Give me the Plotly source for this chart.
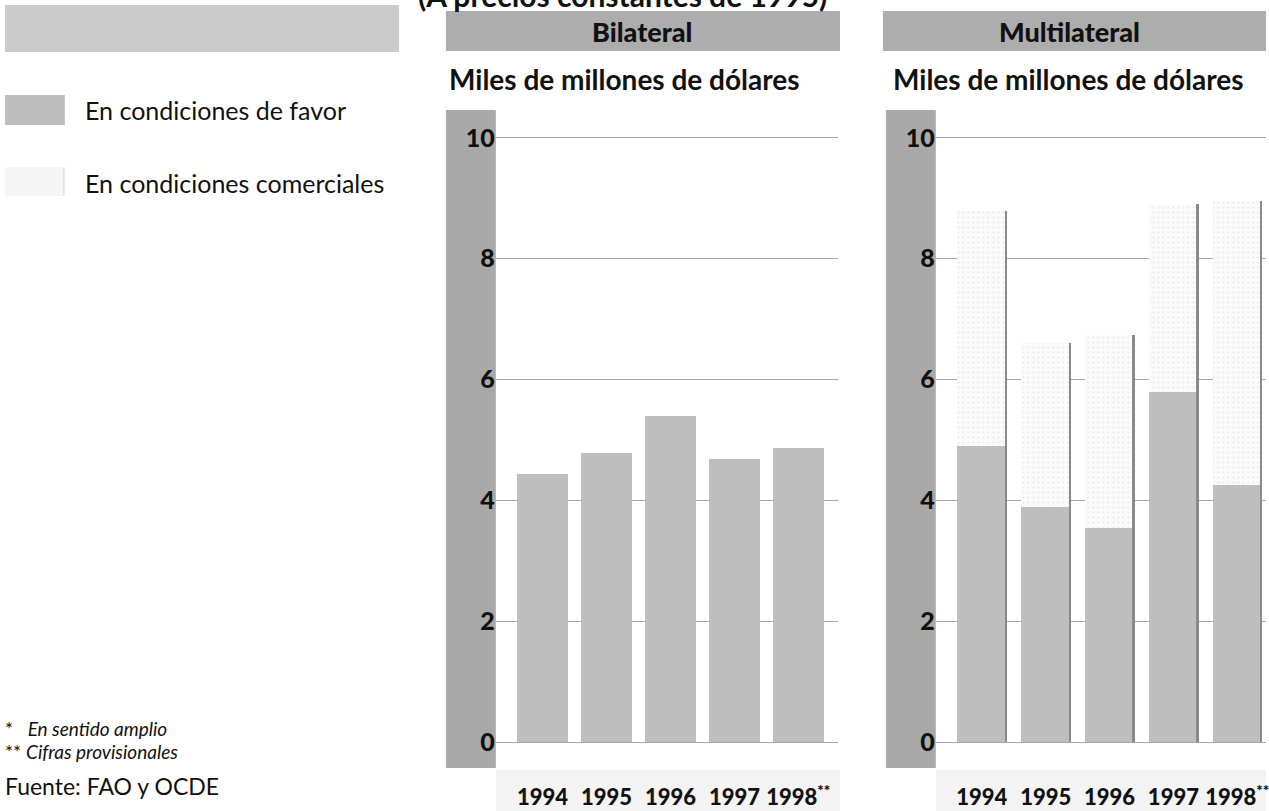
import plotly.graph_objects as go

# --- data (miles de millones de dólares, precios constantes de 1995) ---
years = ["1994", "1995", "1996", "1997", "1998<sup>**</sup>"]
bilateral_favor = [4.43, 4.79, 5.40, 4.68, 4.86]
multilateral_favor = [4.90, 3.89, 3.55, 5.80, 4.25]
multilateral_comercial = [3.89, 2.71, 3.18, 3.10, 4.70]

W, H = 1269, 811
FONT = "Lato"


def fx(px):
    return px / W


def fy(py):
    return 1 - py / H


FAVOR = "#bebebe"
COMERCIAL = "#f4f4f4"
BAND = "#a9a9a9"
EDGE = "#8a8a8a"

pos = list(range(len(years)))
multilateral_total = [f + c for f, c in zip(multilateral_favor, multilateral_comercial)]

fig = go.Figure()

# Bilateral panel
fig.add_trace(go.Bar(x=pos, y=bilateral_favor, width=0.8, marker=dict(color=FAVOR, line_width=0),
                     name="En condiciones de favor", xaxis="x", yaxis="y", showlegend=False))

# Multilateral panel: concessional part, commercial part on top, thin edge marking the total
fig.add_trace(go.Bar(x=pos, y=multilateral_favor, width=0.78, marker=dict(color=FAVOR, line_width=0),
                     name="En condiciones de favor", xaxis="x2", yaxis="y2", showlegend=False))
fig.add_trace(go.Bar(x=pos, y=multilateral_comercial, base=multilateral_favor, width=0.78,
                     marker=dict(color=COMERCIAL, line_width=0,
                                 pattern=dict(shape=".", fgcolor="#cfcfcf", bgcolor="#fbfbfb",
                                              size=5, solidity=0.12)),
                     name="En condiciones comerciales", xaxis="x2", yaxis="y2", showlegend=False))
fig.add_trace(go.Bar(x=pos, y=multilateral_total, width=0.035, offset=0.355,
                     marker=dict(color=EDGE, line_width=0),
                     xaxis="x2", yaxis="y2", showlegend=False, hoverinfo="skip"))

ydom = [fy(768), fy(110)]
yrange = [-0.43, 10.46]
yticks = [0, 2, 4, 6, 8, 10]
tickfont_y = dict(family=FONT, size=25, color="#111", weight=900)
tickfont_x = dict(family=FONT, size=22, color="#111", weight=900)

common_y = dict(range=yrange, tickvals=yticks, ticktext=[str(v) for v in yticks],
                showgrid=True, gridcolor="#a8a8a8", gridwidth=1, zeroline=False,
                showline=False, ticks="", tickfont=tickfont_y, fixedrange=True)
common_x = dict(tickvals=pos, ticktext=years, showgrid=False, zeroline=False, showline=False,
                ticks="", tickfont=tickfont_x, ticklabelstandoff=14, fixedrange=True,
                ticklabeloverflow="allow")

fig.update_layout(
    width=W, height=H,
    margin=dict(l=0, r=0, t=0, b=0),
    paper_bgcolor="white", plot_bgcolor="white",
    barmode="overlay", bargap=0,
    xaxis=dict(domain=[fx(497), fx(840)], range=[-0.73, 4.62], anchor="y", **common_x),
    yaxis=dict(domain=ydom, anchor="x", **common_y),
    xaxis2=dict(domain=[fx(938), 1.0], range=[-0.72, 4.45], anchor="y2", **common_x),
    yaxis2=dict(domain=ydom, anchor="x2", **common_y),
)

shapes = []


def rect(x0, y0, x1, y1, color, line=None):
    shapes.append(dict(type="rect", xref="paper", yref="paper", layer="below",
                       x0=fx(x0), x1=fx(x1), y0=fy(y1), y1=fy(y0),
                       fillcolor=color, line=line or dict(width=0)))


# grey bands behind the value axes
rect(447, 110, 497, 768, BAND)
rect(888, 110, 938, 768, BAND)
# light band behind the year labels
rect(497, 770, 842, 811, "#f3f3f3")
rect(938, 770, 1269, 811, "#f3f3f3")
# header bands
rect(5, 5, 400, 52, "#cbcbcb")
rect(447, 11, 842, 51, "#adadad")
rect(885, 11, 1269, 51, "#adadad")
# legend swatches
rect(5, 95, 65, 125, FAVOR)
rect(5, 167, 65, 196, "#f5f5f5")
shapes.append(dict(type="line", xref="paper", yref="paper", x0=fx(64), x1=fx(64),
                   y0=fy(196), y1=fy(167), line=dict(color="#d8d8d8", width=1)))
fig.update_layout(shapes=shapes)

ann = []


def text(t, x, y, size, xanchor="left", weight="normal", color="#111"):
    ann.append(dict(text=t, x=fx(x), y=fy(y), xref="paper", yref="paper",
                    xanchor=xanchor, yanchor="middle", showarrow=False,
                    font=dict(family=FONT, size=size, color=color, weight=weight)))


text("(A precios constantes de 1995)", 624, -5, 30, xanchor="center", weight="bold")
text("Bilateral", 644, 31, 27, xanchor="center", weight=900)
text("Multilateral", 1072, 31, 27, xanchor="center", weight=900)
text("Miles de millones de dólares", 448, 79, 28, weight="bold")
text("Miles de millones de dólares", 893, 79, 28, weight="bold")
text("En condiciones de favor", 83, 110, 25)
text("En condiciones comerciales", 83, 183, 25)
text("*   <i>En sentido amplio</i>", 3, 728, 19)
text("** <i>Cifras provisionales</i>", 3, 751, 19)
text("Fuente: FAO y OCDE", 3, 786, 23)
fig.update_layout(annotations=ann)

fig.write_html("out.html")
